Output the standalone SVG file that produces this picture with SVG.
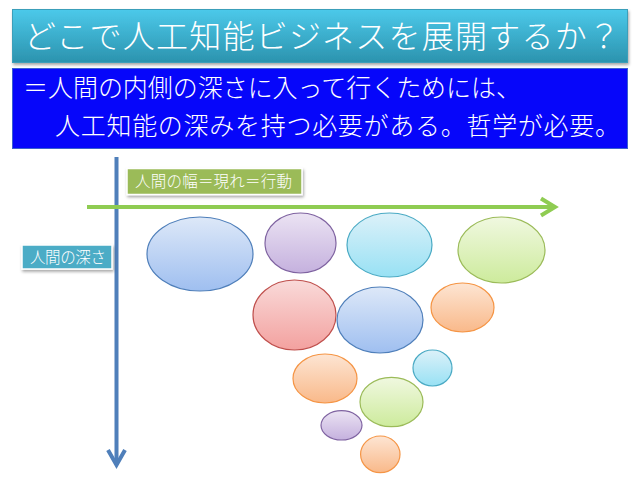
<svg xmlns="http://www.w3.org/2000/svg" width="638" height="479" viewBox="0 0 638 479">
<style>
.jp{font-family:"Noto Sans CJK JP","Noto Sans CJK SC",sans-serif;fill:#fff;font-weight:300}
.ax{fill:none;stroke-linecap:butt}
.e{stroke-width:1.2}
</style>
<defs>
<linearGradient id="gTitle" x1="0" y1="0" x2="0" y2="1"><stop offset="0" stop-color="#4cc9ea"/><stop offset="1" stop-color="#2b93ae"/></linearGradient>
<linearGradient id="gBlue" x1="0" y1="0" x2="0" y2="1"><stop offset="0" stop-color="#dde8f8"/><stop offset="1" stop-color="#9fbff0"/></linearGradient>
<linearGradient id="gPurple" x1="0" y1="0" x2="0" y2="1"><stop offset="0" stop-color="#ebe3f3"/><stop offset="1" stop-color="#c5b1de"/></linearGradient>
<linearGradient id="gCyan" x1="0" y1="0" x2="0" y2="1"><stop offset="0" stop-color="#dcf1f9"/><stop offset="1" stop-color="#98e1f4"/></linearGradient>
<linearGradient id="gGreen" x1="0" y1="0" x2="0" y2="1"><stop offset="0" stop-color="#f0f8e0"/><stop offset="1" stop-color="#cdeb9c"/></linearGradient>
<linearGradient id="gRed" x1="0" y1="0" x2="0" y2="1"><stop offset="0" stop-color="#f9dad9"/><stop offset="1" stop-color="#f3a19f"/></linearGradient>
<linearGradient id="gOrange" x1="0" y1="0" x2="0" y2="1"><stop offset="0" stop-color="#fde5d3"/><stop offset="1" stop-color="#f9b98a"/></linearGradient>
<filter id="sh" x="-10%" y="-20%" width="120%" height="150%"><feDropShadow dx="1" dy="2" stdDeviation="1.5" flood-color="#000" flood-opacity="0.35"/></filter>
</defs>
<rect width="638" height="479" fill="#fff"/>

<g id="title">
<rect x="12.5" y="9.5" width="615" height="53" fill="url(#gTitle)" stroke="#3a9fba" filter="url(#sh)"/>
<text class="jp" x="24" y="48" font-size="32" textLength="596" lengthAdjust="spacing">どこで人工知能ビジネスを展開するか？</text>
</g>

<g id="subtitle">
<rect x="12.5" y="68.5" width="615" height="80" fill="#0606fa" stroke="#3a5fcf"/>
<text class="jp" x="23" y="97" font-size="25" textLength="498" lengthAdjust="spacing">＝人間の内側の深さに入って行くためには、</text>
<text class="jp" x="55" y="135" font-size="25" textLength="565" lengthAdjust="spacing">人工知能の深みを持つ必要がある。哲学が必要。</text>
</g>

<g id="connectors">
<path class="ax" d="M116.5 157 V465" stroke="#4f7fba" stroke-width="4"/>
<path class="ax" d="M108 450 L116.5 465 L125 450" stroke="#4f7fba" stroke-width="4" stroke-linejoin="miter"/>
<path class="ax" d="M87 207 H555" stroke="#8fcc52" stroke-width="4"/>
<path class="ax" d="M541 198.5 L555 207 L541 215.5" stroke="#8fcc52" stroke-width="4" stroke-linejoin="miter"/>
</g>

<g id="label-width">
<rect x="127" y="168.5" width="175" height="26" fill="#9bbb59" stroke="#fff" stroke-width="1.5" filter="url(#sh)"/>
<text class="jp" x="135" y="187" font-size="15.5" textLength="157" lengthAdjust="spacing">人間の幅＝現れ＝行動</text>
</g>

<g id="label-depth">
<rect x="22" y="245" width="90" height="24" fill="#4bacc6" stroke="#fff" stroke-width="1.5" filter="url(#sh)"/>
<text class="jp" x="30" y="263" font-size="15.5" textLength="76" lengthAdjust="spacing">人間の深さ</text>
</g>

<g id="e1"><ellipse class="e" cx="200" cy="254" rx="53" ry="37" fill="url(#gBlue)" stroke="#4f7fba"/></g>
<g id="e2"><ellipse class="e" cx="300.5" cy="243" rx="35.5" ry="30" fill="url(#gPurple)" stroke="#7f63a1"/></g>
<g id="e3"><ellipse class="e" cx="389.5" cy="245" rx="42.5" ry="32" fill="url(#gCyan)" stroke="#4aaac4"/></g>
<g id="e4"><ellipse class="e" cx="501.5" cy="250" rx="43.5" ry="33" fill="url(#gGreen)" stroke="#9bbb59"/></g>
<g id="e5"><ellipse class="e" cx="294.5" cy="315" rx="41.5" ry="35" fill="url(#gRed)" stroke="#bf4f4c"/></g>
<g id="e6"><ellipse class="e" cx="380" cy="320" rx="43" ry="33" fill="url(#gBlue)" stroke="#4f7fba"/></g>
<g id="e7"><ellipse class="e" cx="462.5" cy="307.5" rx="31.5" ry="24.5" fill="url(#gOrange)" stroke="#f59545"/></g>
<g id="e8"><ellipse class="e" cx="325" cy="378.5" rx="32" ry="24.5" fill="url(#gOrange)" stroke="#f59545"/></g>
<g id="e9"><ellipse class="e" cx="432.5" cy="368" rx="19.5" ry="18" fill="url(#gCyan)" stroke="#4aaac4"/></g>
<g id="e10"><ellipse class="e" cx="391.5" cy="402" rx="31.5" ry="24.7" fill="url(#gGreen)" stroke="#9bbb59"/></g>
<g id="e11"><ellipse class="e" cx="341.5" cy="425.3" rx="20.5" ry="14.7" fill="url(#gPurple)" stroke="#7f63a1"/></g>
<g id="e12"><ellipse class="e" cx="380.3" cy="454.3" rx="19.7" ry="18.3" fill="url(#gOrange)" stroke="#f59545"/></g>
</svg>
